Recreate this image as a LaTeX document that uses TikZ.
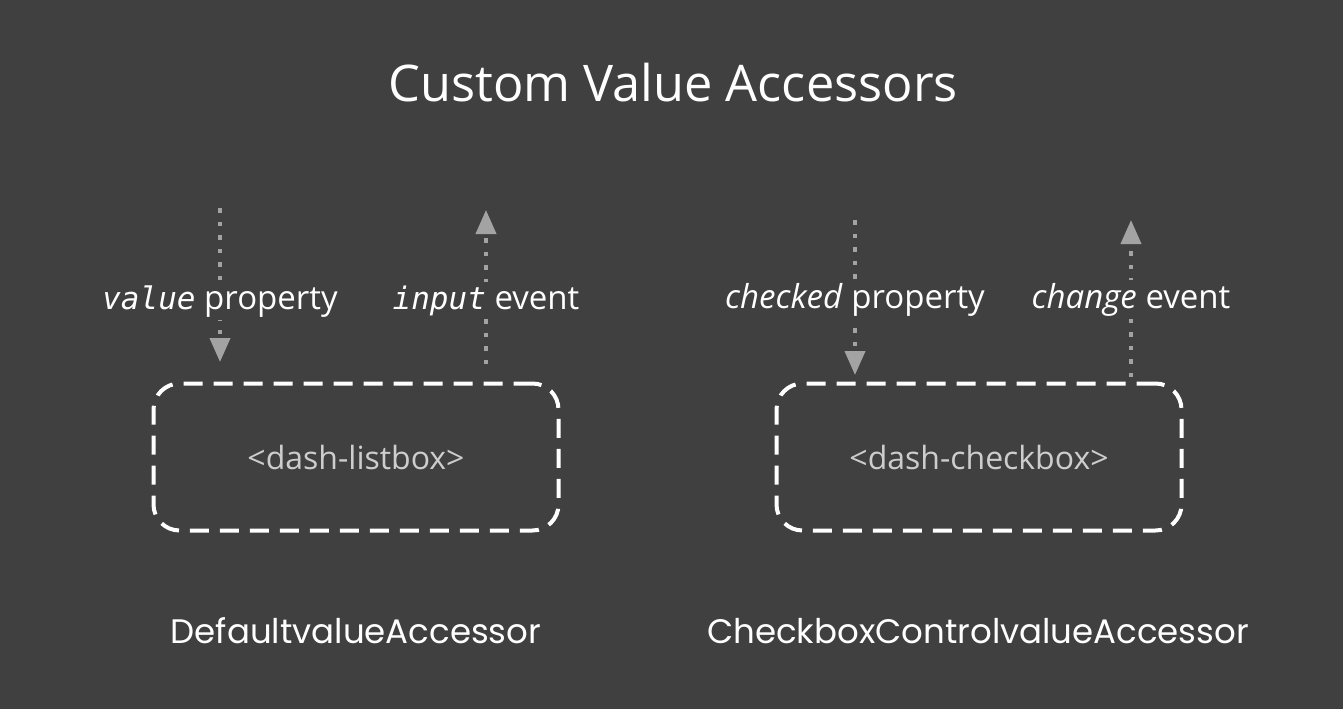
\documentclass[tikz,border=0pt]{standalone}
\usepackage{fontspec}
\setmainfont{Open Sans}
\newfontfamily\codefont{DejaVu Sans Mono}
\newfontfamily\handfont{Poppins}
\usetikzlibrary{arrows.meta,positioning}

\definecolor{slide}{HTML}{404040}
\definecolor{flowgray}{HTML}{A3A3A3}
\definecolor{tagtext}{HTML}{CDCDCD}

\tikzset{
  flow/.style={flowgray, line width=4pt, line cap=rect, dash pattern=on 0.5pt off 13pt,
    -{Triangle[width=20pt,length=24pt]}},
  widget/.style={draw=white, line width=4pt, dash pattern=on 19pt off 11pt,
    rounded corners=26pt, minimum width=405pt, minimum height=147pt,
    text=tagtext, font=\fontsize{32}{36}\selectfont},
  label/.style={fill=slide, text=white, inner sep=3pt, font=\fontsize{33}{37}\selectfont},
  accessor/.style={text=white, font=\handfont\fontsize{34}{38}\selectfont},
}

\begin{document}
\begin{tikzpicture}[x=1pt, y=-1pt]
\useasboundingbox (0,0) rectangle (1343,709);
\fill[slide] (0,0) rectangle (1343,709);

% title
\node[text=white, font=\fontsize{50.5}{58}\selectfont, anchor=base] (title) at (673,101) {Custom Value Accessors};

% the two custom elements
\node[widget] (listbox) at (356,457) {<dash-listbox>};
\node[widget] (checkbox) at (979,457) {<dash-checkbox>};

% ends of the flows
\coordinate (valueTop) at (220,210);
\coordinate (valueTip) at (220,362);
\coordinate (inputFoot) at (486,362);
\coordinate (inputTip) at (486,210);
\coordinate (checkedTop) at (855,222);
\coordinate (checkedTip) at (855,375);
\coordinate (changeFoot) at (1131,375);
\coordinate (changeTip) at (1131,220);

\draw[flow] (valueTop) -- (valueTip);
\draw[flow] (inputFoot) -- (inputTip);
\draw[flow] (checkedTop) -- (checkedTip);
\draw[flow] (changeFoot) -- (changeTip);

% labels over the flows
\node[label, anchor=base] (valueLbl) at (220,309) {{\codefont\itshape\fontsize{31}{35}\selectfont value} property};
\node[label, anchor=base] (inputLbl) at (486,309) {{\codefont\itshape\fontsize{31}{35}\selectfont input} event};
\node[label, anchor=base] (checkedLbl) at (855,308) {\textit{checked} property};
\node[label, anchor=base] (changeLbl) at (1131,308) {\textit{change} event};

% accessor names
\node[accessor, anchor=base] (defaultAcc) at (356,643) {DefaultvalueAccessor};
\node[accessor, anchor=base] (checkboxAcc) at (978,643) {CheckboxControlvalueAccessor};
\end{tikzpicture}
\end{document}
